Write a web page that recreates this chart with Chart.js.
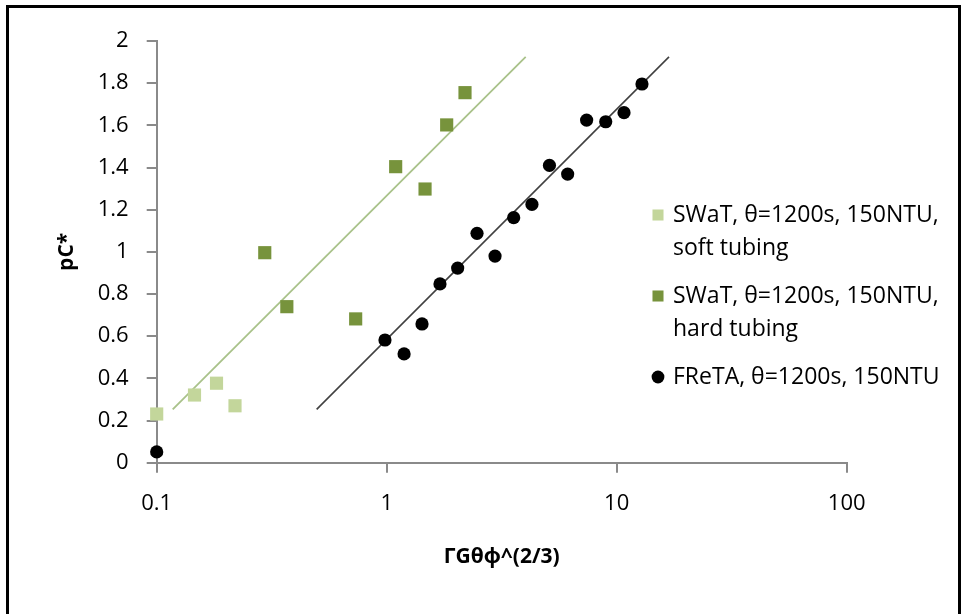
<!DOCTYPE html>
<html>
<head>
<meta charset="utf-8">
<script src="https://cdn.jsdelivr.net/npm/chart.js@4.4.1/dist/chart.umd.min.js"></script>
<style>
  html, body { margin: 0; padding: 0; background: #fff; }
  #wrap { position: relative; width: 964px; height: 614px; overflow: hidden; }
  #frame { position: absolute; left: 6px; top: 5px; width: 949px; height: 700px;
           border: 3px solid #000; border-bottom: none; pointer-events: none; }
  canvas { position: absolute; left: 0; top: 0; }
</style>
</head>
<body>
<div id="wrap">
  <canvas id="chart" width="964" height="614"></canvas>
  <div id="frame"></div>
</div>
<script>
// Measured series: SWaT soft tubing, SWaT hard tubing, FReTA
const softX = [0.1, 0.146, 0.182, 0.219];
const softY = [0.231, 0.321, 0.377, 0.270];

const hardX = [0.295, 0.368, 0.733, 1.094, 1.468, 1.823, 2.19];
const hardY = [0.996, 0.740, 0.682, 1.404, 1.298, 1.602, 1.755];

const fretaX = [0.1, 0.983, 1.19, 1.424, 1.705, 2.035, 2.47, 2.958, 3.565, 4.28, 5.1, 6.12, 7.40, 8.96, 10.76, 12.88];
const fretaY = [0.051, 0.582, 0.516, 0.658, 0.848, 0.923, 1.088, 0.980, 1.162, 1.225, 1.41, 1.369, 1.625, 1.617, 1.660, 1.796];

// Logarithmic trend lines (end points)
const swatFitX = [0.1174, 4.02];
const swatFitY = [0.253, 1.925];
const fretaFitX = [0.496, 16.88];
const fretaFitY = [0.253, 1.925];

// Series names (multi-line in the legend)
const softLabel = ['SWaT, \u03b8=1200s, 150NTU,', 'soft tubing'];
const hardLabel = ['SWaT, \u03b8=1200s, 150NTU,', 'hard tubing'];
const fretaLabel = ['FReTA, \u03b8=1200s, 150NTU'];

// Axis ticks and titles
const xTicks = [0.1, 1, 10, 100];
const yTicks = [0, 0.2, 0.4, 0.6, 0.8, 1, 1.2, 1.4, 1.6, 1.8, 2];
const xTitle = '\u0393G\u03b8\u03d5^(2/3)';
const yTitle = 'pC*';

const toPoints = (xs, ys) => xs.map((x, i) => ({ x: x, y: ys[i] }));

const FONT = '"Open Sans", "Noto Sans", sans-serif';
const AXIS_GREY = '#8a8a8a';

// Legend drawn beside the plot, overlapping its right part
const sideLegend = {
  id: 'sideLegend',
  afterDraw(chart, args, opts) {
    const ctx = chart.ctx;
    ctx.save();
    ctx.font = opts.fontSize + 'px ' + FONT;
    ctx.textBaseline = 'middle';
    ctx.textAlign = 'left';
    let y = opts.top;
    chart.data.datasets.forEach(ds => {
      if (!ds.legendLines) return;
      ctx.fillStyle = ds.backgroundColor;
      Chart.helpers.drawPoint(ctx, {
        pointStyle: ds.pointStyle,
        radius: ds.pointStyle === 'rect' ? opts.rectRadius : opts.circleRadius,
        rotation: 0,
        borderWidth: 0
      }, opts.markerX, y);
      ctx.fillStyle = opts.color;
      ds.legendLines.forEach((line, i) => {
        ctx.fillText(line, opts.textX, y + i * opts.lineGap);
      });
      y += (ds.legendLines.length - 1) * opts.lineGap + opts.entryGap;
    });
    ctx.restore();
  }
};

new Chart(document.getElementById('chart'), {
  type: 'scatter',
  plugins: [sideLegend],
  data: {
    datasets: [
      {
        label: softLabel.join(' '),
        legendLines: softLabel,
        data: toPoints(softX, softY),
        pointStyle: 'rect',
        pointRadius: 9.3,
        backgroundColor: '#c3d69b',
        borderWidth: 0,
        clip: false
      },
      {
        label: hardLabel.join(' '),
        legendLines: hardLabel,
        data: toPoints(hardX, hardY),
        pointStyle: 'rect',
        pointRadius: 9.3,
        backgroundColor: '#77933c',
        borderWidth: 0,
        clip: false
      },
      {
        label: fretaLabel.join(' '),
        legendLines: fretaLabel,
        data: toPoints(fretaX, fretaY),
        pointStyle: 'circle',
        pointRadius: 6.6,
        backgroundColor: '#000000',
        borderWidth: 0,
        clip: false
      },
      {
        label: 'SWaT trend',
        data: toPoints(swatFitX, swatFitY),
        showLine: true,
        pointRadius: 0,
        borderColor: '#a9c28a',
        borderWidth: 1.8
      },
      {
        label: 'FReTA trend',
        data: toPoints(fretaFitX, fretaFitY),
        showLine: true,
        pointRadius: 0,
        borderColor: '#404040',
        borderWidth: 1.6
      }
    ]
  },
  options: {
    responsive: false,
    animation: false,
    events: [],
    layout: { padding: { left: 0, top: 41, right: 117.3, bottom: 0 } },
    plugins: {
      legend: { display: false },
      tooltip: { enabled: false },
      sideLegend: {
        fontSize: 23,
        color: '#000',
        markerX: 658,
        textX: 673,
        top: 215,
        lineGap: 33,
        entryGap: 48,
        rectRadius: 7.8,
        circleRadius: 6.4
      }
    },
    scales: {
      x: {
        type: 'logarithmic',
        min: 0.1,
        max: 100,
        afterBuildTicks: s => { s.ticks = xTicks.map(v => ({ value: v })); },
        afterFit: s => { s.height = 151.3; },
        ticks: {
          autoSkip: false,
          maxRotation: 0,
          padding: 18,
          color: '#000',
          font: { family: FONT, size: 22 },
          callback: v => String(v)
        },
        grid: { drawOnChartArea: false, drawTicks: true, tickLength: 10, color: AXIS_GREY, lineWidth: 2 },
        border: { color: AXIS_GREY, width: 2 },
        title: {
          display: true,
          text: xTitle,
          color: '#000',
          font: { family: FONT, size: 21, weight: 'bold' },
          padding: { top: 0, bottom: 44 }
        }
      },
      y: {
        min: 0,
        max: 2,
        afterBuildTicks: s => { s.ticks = yTicks.map(v => ({ value: v })); },
        afterFit: s => { s.width = 156.7; },
        ticks: {
          padding: 18,
          color: '#000',
          font: { family: FONT, size: 22 },
          callback: v => String(Math.round(v * 10) / 10)
        },
        grid: { drawOnChartArea: false, drawTicks: true, tickLength: 10, color: AXIS_GREY, lineWidth: 2 },
        border: { color: AXIS_GREY, width: 2 },
        title: {
          display: true,
          text: yTitle,
          color: '#000',
          font: { family: FONT, size: 21, weight: 'bold' },
          padding: { top: 54, bottom: 0 }
        }
      }
    }
  }
});
</script>
</body>
</html>
